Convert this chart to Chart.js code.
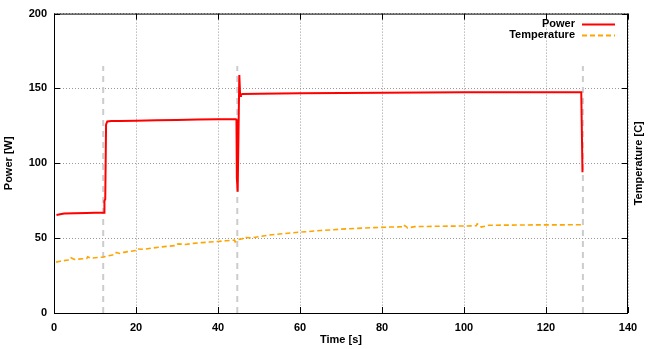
<!DOCTYPE html>
<html>
<head>
<meta charset="utf-8">
<script src="https://cdn.jsdelivr.net/npm/chart.js@4.4.0/dist/chart.umd.min.js"></script>
<style>
  html, body { margin: 0; padding: 0; background: #fff; }
  #wrap { width: 664px; height: 349px; }
</style>
</head>
<body>
<div id="wrap"><canvas id="power-chart" width="664" height="349"></canvas></div>
<script>
const powerTime = [0.6, 1.5, 2.5, 5, 8, 10, 12.2, 12.3, 12.5, 12.7, 13, 14, 16, 20, 25, 30, 35, 40, 44.3,
  44.5, 44.6, 44.8, 45.0, 45.2, 45.4, 45.6, 46, 50, 60, 70, 80, 90, 100, 110, 120, 128.6, 128.9];
const powerVals = [65.5, 66, 66.5, 66.7, 66.8, 66.9, 67, 75, 76, 126, 128, 128.2, 128.3, 128.5, 128.7, 129, 129.2, 129.4, 129.5,
  129.3, 90, 81, 120, 159, 145, 146, 146.3, 146.5, 146.8, 147, 147.2, 147.3, 147.4, 147.4, 147.5, 147.5, 94];

const tempTime = [0.5, 1.5, 3, 4, 4.2, 5, 6, 7, 8, 8.2, 9, 10, 11, 12, 13, 14, 15, 15.2, 16, 17, 18, 20, 20.2, 22, 24,
  26, 28, 30, 30.2, 32, 34, 36, 38, 40, 42, 44, 44.2, 45, 46, 46.2, 48, 50, 52, 55, 58, 60, 62, 65, 68, 70, 72, 75, 78,
  80, 82, 84, 85, 85.2, 86, 86.2, 88, 90, 93, 96, 100, 102, 103, 103.2, 104, 104.2, 106, 110, 115, 120, 125, 128.6, 128.8];
const tempVals = [34, 34.6, 35.2, 35.5, 36.8, 35.8, 36, 36.2, 36.4, 37.6, 36.6, 36.9, 37.1, 37.4, 38, 38.6, 39.2, 40.4, 39.8, 40.5, 41, 41.8, 42.8, 42.6, 43.4,
  44.1, 44.6, 45.2, 46.2, 45.8, 46.5, 47, 47.4, 47.8, 48.3, 48.7, 47.5, 49.2, 49.6, 50.6, 50.2, 51, 51.9, 52.8, 53.5, 54, 54.4, 55.1, 55.6, 56, 56.3, 56.7, 57,
  57.2, 57.4, 57.5, 57.6, 58.8, 57.6, 56.8, 57.7, 57.8, 57.9, 58, 58.1, 58.2, 58.3, 59.6, 58.4, 57.4, 58.6, 58.7, 58.8, 58.9, 58.9, 59, 60];

// phase markers (gray dashed verticals)
const markerTimes = [12, 44.7, 129];
const markerTop = 165;

const seriesNames = ['Power', 'Temperature'];
const xTicks = [0, 20, 40, 60, 80, 100, 120, 140];
const yTicks = [0, 50, 100, 150, 200];

Chart.defaults.font.family = "'Liberation Sans', Arial, sans-serif";
Chart.defaults.font.size = 11;
Chart.defaults.font.weight = 'bold';
Chart.defaults.color = '#000';

const toPoints = (xs, ys) => xs.map((x, i) => ({ x: x, y: ys[i] }));

const markerSets = markerTimes.map(t => ({
  label: 'marker',
  data: [{ x: t, y: 0 }, { x: t, y: markerTop }],
  borderColor: '#cccccc',
  borderWidth: 2,
  borderDash: [6, 5],
  pointRadius: 0,
  yAxisID: 'y'
}));

// frame, inward tick marks, right title and legend (gnuplot style)
const gnuplotFrame = {
  id: 'gnuplotFrame',
  afterDatasetsDraw(chart) {
    const { ctx, chartArea: a, scales } = chart;
    ctx.save();
    ctx.strokeStyle = '#000';
    ctx.lineWidth = 1;
    ctx.setLineDash([]);
    ctx.strokeRect(a.left + 0.5, a.top + 0.5, a.right - a.left - 1, a.bottom - a.top);
    ctx.beginPath();
    xTicks.forEach(v => {
      const px = Math.round(scales.x.getPixelForValue(v)) + 0.5;
      ctx.moveTo(px, a.bottom); ctx.lineTo(px, a.bottom - 6);
      ctx.moveTo(px, a.top); ctx.lineTo(px, a.top + 6);
    });
    yTicks.forEach(v => {
      const py = Math.round(scales.y.getPixelForValue(v)) + 0.5;
      ctx.moveTo(a.left, py); ctx.lineTo(a.left + 6, py);
      ctx.moveTo(a.right, py); ctx.lineTo(a.right - 6, py);
    });
    ctx.stroke();

    ctx.font = "bold 11px 'Liberation Sans', Arial, sans-serif";
    ctx.fillStyle = '#000';
    ctx.save();
    ctx.translate(639, (a.top + a.bottom) / 2);
    ctx.rotate(-Math.PI / 2);
    ctx.textAlign = 'center';
    ctx.textBaseline = 'middle';
    ctx.fillText('Temperature [C]', 0, 0);
    ctx.restore();

    // legend
    const rows = [
      { text: seriesNames[0], color: '#ff0000', dash: [] },
      { text: seriesNames[1], color: '#ffa500', dash: [5, 3] }
    ];
    ctx.textAlign = 'right';
    ctx.textBaseline = 'middle';
    rows.forEach((r, i) => {
      const y = 24 + i * 11;
      ctx.fillText(r.text, 575, y);
      ctx.beginPath();
      ctx.strokeStyle = r.color;
      ctx.lineWidth = 2;
      ctx.setLineDash(r.dash);
      ctx.moveTo(582, y + 0.5);
      ctx.lineTo(615, y + 0.5);
      ctx.stroke();
    });
    ctx.restore();
  }
};

const powerChart = new Chart(document.getElementById('power-chart'), {
  type: 'line',
  data: {
    datasets: [
      {
        label: seriesNames[0],
        data: toPoints(powerTime, powerVals),
        borderColor: '#ff0000',
        borderWidth: 2,
        pointRadius: 0,
        tension: 0,
        yAxisID: 'y'
      },
      {
        label: seriesNames[1],
        data: toPoints(tempTime, tempVals),
        borderColor: '#ffa500',
        borderWidth: 1.6,
        borderDash: [5, 3],
        pointRadius: 0,
        tension: 0,
        yAxisID: 'y2'
      },
      ...markerSets
    ]
  },
  options: {
    responsive: false,
    animation: false,
    devicePixelRatio: 1,
    layout: { padding: { top: 13, left: 0, right: 0, bottom: 0 } },
    scales: {
      x: {
        type: 'linear',
        min: 0,
        max: 140,
        afterBuildTicks: s => { s.ticks = xTicks.map(v => ({ value: v })); },
        afterFit: s => { s.height = 36; },
        ticks: { padding: 8, maxRotation: 0 },
        grid: { color: '#999999', drawTicks: false },
        border: { display: false, dash: [1, 2] },
        title: { display: true, text: 'Time [s]', padding: { top: 0, bottom: 2 } }
      },
      y: {
        min: 0,
        max: 200,
        afterBuildTicks: s => { s.ticks = yTicks.map(v => ({ value: v })); },
        afterFit: s => { s.width = 54; },
        ticks: { padding: 7 },
        grid: { color: '#999999', drawTicks: false },
        border: { display: false, dash: [1, 2] },
        title: { display: true, text: 'Power [W]', padding: { top: 2, bottom: 0 } }
      },
      y2: {
        position: 'right',
        min: 0,
        max: 200,
        afterFit: s => { s.width = 36; },
        ticks: { display: false },
        grid: { display: false, drawTicks: false },
        border: { display: false }
      }
    },
    plugins: {
      legend: { display: false },
      tooltip: { enabled: false }
    }
  },
  plugins: [gnuplotFrame]
});
</script>
</body>
</html>
